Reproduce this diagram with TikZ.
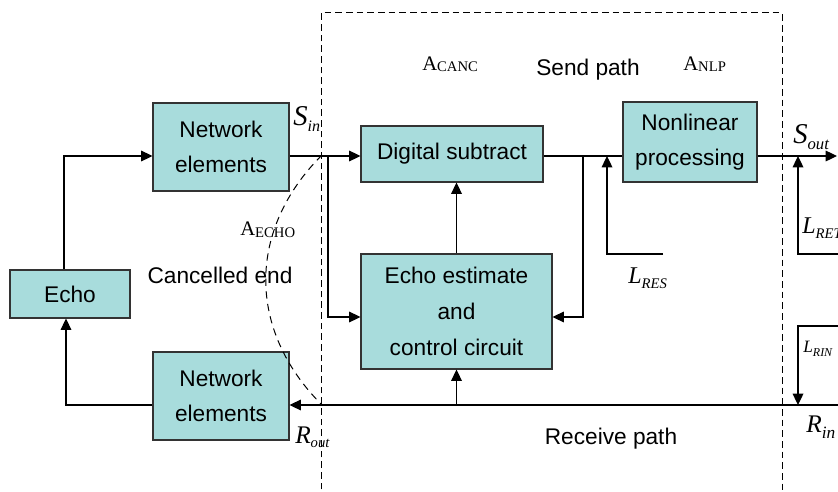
\documentclass[tikz,border=0pt]{standalone}
\usepackage{fontspec}
\setmainfont{Liberation Sans}
\newfontfamily\tmsfont{Liberation Serif}
\usetikzlibrary{arrows.meta}
\definecolor{boxfill}{RGB}{168,220,220}

% italic signal/level symbol with a lowered subscript
% #1 letter, #2 subscript, #3 letter size, #4 subscript size, #5 drop (pt)
\newcommand\varlbl[5]{{\tmsfont\itshape\fontsize{#3}{#3}\selectfont #1\raisebox{-#5pt}{\fontsize{#4}{#4}\selectfont #2}}}
% upright attenuation symbol A with a subscript
\newcommand\gainlbl[1]{{\tmsfont\fontsize{15.5}{15.5}\selectfont A\raisebox{-1.5pt}{\fontsize{11}{11}\selectfont #1}}}

\begin{document}
\begin{tikzpicture}[x=0.75pt,y=-0.75pt,
  blk/.style={draw=black!80, line width=0.8pt, fill=boxfill,
    font=\fontsize{17}{26}\selectfont, align=center, inner sep=0pt},
  wire/.style={line width=0.9pt},
  arr/.style={wire, -{Triangle[length=8.5pt,width=8pt]}},
  regionline/.style={line width=0.75pt, dash pattern=on 5pt off 3pt},
  curveline/.style={line width=0.75pt, dash pattern=on 5.5pt off 4pt},
  txt/.style={font=\fontsize{17}{20}\selectfont, inner sep=0pt},
  sym/.style={inner sep=0pt, anchor=base west},
]
\clip (0,0) rectangle (838,492);

% blocks
\node[blk, minimum width=90pt, minimum height=36pt] (echo) at (70,294) {Echo};
\node[blk, minimum width=102pt, minimum height=66pt] (net1) at (221,147) {Network\\elements};
\node[blk, minimum width=102pt, minimum height=66pt] (net2) at (221,396) {Network\\elements};
\node[blk, minimum width=136.5pt, minimum height=42pt] (dsub) at (452,154) {Digital subtract};
\node[blk, minimum width=143.25pt, minimum height=86.25pt,
      font=\fontsize{17}{27}\selectfont] (eest) at (456.5,311.5) {Echo estimate\\and\\control circuit};
\node[blk, minimum width=100.5pt, minimum height=60pt] (nlp) at (690,142) {Nonlinear\\processing};

% reference levels and branch points
\coordinate (sy) at (0,156);
\coordinate (ry) at (0,405);
\coordinate (cy) at (0,317);
\coordinate (lxa) at (64,0);
\coordinate (lxb) at (66,0);
\coordinate (bxa) at (328,0);
\coordinate (bxb) at (583,0);
\coordinate (resx) at (607,0);
\coordinate (retx) at (798,0);
\coordinate (resend) at (663,254);
\coordinate (retend) at (840,254);
\coordinate (rinend) at (840,326);
\coordinate (sout) at (837,156);
\coordinate (rin) at (840,405);

% send path
\draw[arr] (echo.north -| lxa) |- (net1.west |- sy);
\draw[arr] (net1.east |- sy) -- (dsub.west |- sy);
\draw[arr] (bxa |- sy) |- (eest.west |- cy);
\draw[wire] (dsub.east |- sy) -- (nlp.west |- sy);
\draw[arr] (bxb |- sy) |- (eest.east |- cy);
\draw[arr] (eest.north) -- (eest.north |- dsub.south);
\draw[arr] (resend) -| (resx |- sy);
\draw[arr] (nlp.east |- sy) -- (sout);
\draw[arr] (retend) -| (retx |- sy);

% receive path
\draw[arr] (rin) -- (net2.east |- ry);
\draw[arr] (eest.south |- ry) -- (eest.south);
\draw[arr] (rinend) -| (retx |- ry);
\draw[arr] (net2.west |- ry) -| (echo.south -| lxb);

% echo canceller region and cancelled-end boundary
\draw[regionline] (321,500) -- (321,13) -- (782,13) -- (782,500);
\draw[curveline] (322,155) .. controls (247,230) and (247,330) .. (322,405);

% symbols
\node[sym] (sin) at (293,125) {\varlbl{S}{in}{21.5}{12}{5}};
\node[sym] (soutl) at (793,143) {\varlbl{S}{out}{21.5}{12.5}{5}};
\node[sym] (lres) at (628,283) {\varlbl{L}{RES}{18}{11}{4}};
\node[sym] (lret) at (802,233) {\varlbl{L}{RET}{18}{11}{4}};
\node[sym] (lrin) at (803,352) {\varlbl{L}{RIN}{13}{9}{3}};
\node[sym] (rinl) at (806,432) {\varlbl{R}{in}{19}{13}{5}};
\node[sym] (routl) at (295,443) {\varlbl{R}{out}{19}{11}{3}};
\node[sym] (aecho) at (240,235) {\gainlbl{ECHO}};
\node[sym] (acanc) at (422,70) {\gainlbl{CANC}};
\node[sym] (anlp) at (683,70) {\gainlbl{NLP}};

% captions
\node[txt, anchor=base] (sendp) at (588,75) {Send path};
\node[txt, anchor=base] (canc) at (220,283) {Cancelled end};
\node[txt, anchor=base] (recp) at (611,444) {Receive path};
\end{tikzpicture}
\end{document}
